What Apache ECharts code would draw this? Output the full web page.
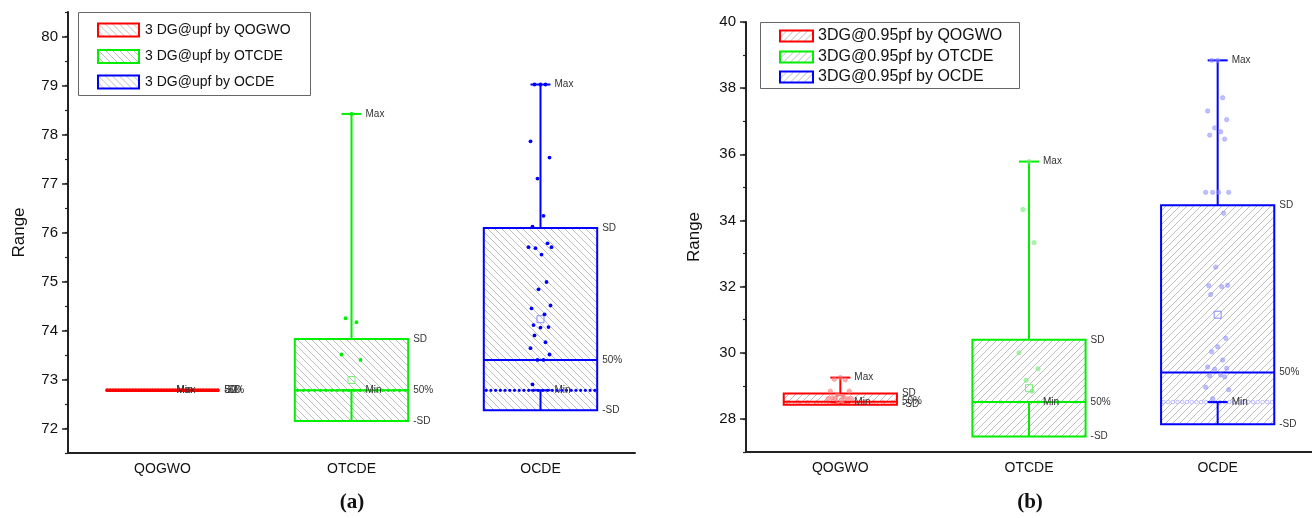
<!DOCTYPE html>
<html><head><meta charset="utf-8">
<script src="https://cdn.jsdelivr.net/npm/echarts@6/dist/echarts.min.js"></script>
<style>html,body{margin:0;padding:0;background:#fff}#c{width:1312px;height:518px}</style>
</head><body><div id="c"></div><script>
// ---------- data ----------
const categories = ['QOGWO', 'OTCDE', 'OCDE'];
const legendA = ['3 DG@upf by QOGWO', '3 DG@upf by OTCDE', '3 DG@upf by OCDE'];
const legendB = ['3DG@0.95pf by QOGWO', '3DG@0.95pf by OTCDE', '3DG@0.95pf by OCDE'];
const yTicksA = [72, 73, 74, 75, 76, 77, 78, 79, 80];
const yTicksB = [28, 30, 32, 34, 36, 38, 40];
const axisTitle = 'Range';
const captions = ['(a)', '(b)'];

// panel (a): 3 DG @ upf
const aMean   = [72.78, 72.99, 74.23];
const aSD     = [0.00, 0.835, 1.86];
const aMedian = [72.78, 72.78, 73.40];
const aMin    = [72.78, 72.78, 72.78];
const aMax    = [72.78, 78.42, 79.02];
const aMinCount = [40, 20, 24];
const aPtsQOGWO = [];
const aPtsOTCDE = [78.42, 74.25, 74.17, 73.51, 73.40];
const aPtsOCDE  = [79.02, 79.02, 79.02, 77.86, 77.53, 77.10, 76.34, 76.12, 75.78, 75.70, 75.70, 75.68,
                   75.55, 74.99, 74.84, 74.51, 74.45, 74.33, 74.11, 74.07, 74.06, 73.90, 73.76, 73.64,
                   73.51, 73.40, 73.40, 72.90];

// panel (b): 3 DG @ 0.95 pf
const bMean   = [28.60, 28.93, 31.15];
const bSD     = [0.17, 1.46, 3.31];
const bMedian = [28.52, 28.51, 29.40];
const bMin    = [28.50, 28.51, 28.51];
const bMax    = [29.25, 35.78, 38.84];
const bMinCount = [12, 6, 24];
const bPtsQOGWO = [29.25, 29.20, 29.18, 28.84, 28.84, 28.74, 28.67, 28.64, 28.61, 28.61, 28.61, 28.61, 28.57];
const bPtsOTCDE = [35.78, 34.33, 33.33, 30.00, 29.52, 29.17, 28.84];
const bPtsOCDE  = [38.84, 38.84, 37.71, 37.31, 37.05, 36.80, 36.68, 36.58, 36.46, 34.85, 34.85, 34.85,
                   34.85, 34.22, 32.59, 32.04, 32.03, 32.00, 31.76, 30.44, 30.18, 30.03, 29.78, 29.57,
                   29.53, 29.50, 29.33, 29.30, 29.27, 28.96, 28.88, 28.61];

// ---------- styling helpers ----------
const COLORS = ['#ff0000', '#00ee00', '#0000ff'];
const LIGHT  = ['rgba(255,120,120,0.6)', 'rgba(120,235,120,0.6)', 'rgba(140,140,255,0.55)'];
const MEANC  = ['#ff7777', '#77ee77', '#8888ff'];
const LABEL_FONT = '10px "Liberation Sans Narrow", "Liberation Sans", Arial, sans-serif';
const JIT = [0, -6, 5, -10, 9, -3, 3, -8, 7, -12, 11, -5, 1, 6, -2, 10, -9, 4, -7, 8];

function hatch(dir) {
  const s = 7, c = document.createElement('canvas');
  c.width = c.height = s;
  const g = c.getContext('2d');
  g.fillStyle = '#fff'; g.fillRect(0, 0, s, s);
  g.strokeStyle = '#bdbdbd'; g.lineWidth = 1;
  g.beginPath();
  if (dir > 0) { // '/'
    g.moveTo(-1, s + 1); g.lineTo(s + 1, -1);
    g.moveTo(-1, 1); g.lineTo(1, -1);
    g.moveTo(s - 1, s + 1); g.lineTo(s + 1, s - 1);
  } else {       // '\'
    g.moveTo(-1, -1); g.lineTo(s + 1, s + 1);
    g.moveTo(-1, s - 1); g.lineTo(1, s + 1);
    g.moveTo(s - 1, -1); g.lineTo(s + 1, 1);
  }
  g.stroke();
  return c;
}
const PAT = [{ image: hatch(-1), repeat: 'repeat' }, { image: hatch(1), repeat: 'repeat' }];

function txt(x, y, t, align) {
  return { type: 'text', style: { text: t, x: x, y: y, font: LABEL_FONT, fill: '#333',
    align: align || 'left', verticalAlign: 'middle', textAlign: align || 'left', textVerticalAlign: 'middle' } };
}

function boxRender(panel, k) {
  return function (params, api) {
    const mean = api.value(1), sd = api.value(2), med = api.value(3), mn = api.value(4), mx = api.value(5), nMin = api.value(6);
    const cx = api.coord([k, mean])[0];
    const band = api.size([1, 0])[0];
    const hw = band * 0.3;
    const Y = v => api.coord([k, v])[1];
    const yT = Y(mean + sd), yB = Y(mean - sd), yMed = Y(med), yMin = Y(mn), yMax = Y(mx), yMean = Y(mean);
    const col = COLORS[k];
    const lw = 2;
    const flat = Math.abs(yB - yT) < 1;
    const ch = [];
    ch.push({ type: 'rect', shape: { x: cx - hw, y: yT, width: 2 * hw, height: yB - yT }, style: { fill: PAT[panel], stroke: null } });
    for (let i = 0; i < nMin; i++) {
      const x = cx - hw + (i + 0.5) * (2 * hw / nMin);
      if (panel === 0) ch.push({ type: 'circle', shape: { cx: x, cy: yMin, r: flat ? 1.8 : 1.6 }, style: { fill: col } });
      else ch.push({ type: 'circle', shape: { cx: x, cy: yMin, r: 1.8 }, style: { fill: '#fff', stroke: LIGHT[k], lineWidth: 1 } });
    }
    ch.push({ type: 'line', shape: { x1: cx, y1: yT, x2: cx, y2: yMax }, style: { stroke: col, lineWidth: lw } });
    ch.push({ type: 'line', shape: { x1: cx, y1: yB, x2: cx, y2: yMin }, style: { stroke: col, lineWidth: lw } });
    ch.push({ type: 'line', shape: { x1: cx - 10, y1: yMax, x2: cx + 10, y2: yMax }, style: { stroke: col, lineWidth: lw } });
    ch.push({ type: 'line', shape: { x1: cx - 10, y1: yMin, x2: cx + 10, y2: yMin }, style: { stroke: col, lineWidth: lw } });
    ch.push({ type: 'rect', shape: { x: cx - hw, y: yT, width: 2 * hw, height: yB - yT }, style: { fill: null, stroke: col, lineWidth: flat ? 3 : lw } });
    ch.push({ type: 'line', shape: { x1: cx - hw, y1: yMed, x2: cx + hw, y2: yMed }, style: { stroke: col, lineWidth: flat ? 3 : lw } });
    if (!flat) ch.push({ type: 'rect', shape: { x: cx - 3.5, y: yMean - 3.5, width: 7, height: 7 }, style: { fill: null, stroke: MEANC[k], lineWidth: 1 } });
    ch.push(txt(cx + 14, yMax, 'Max'));
    ch.push(txt(cx + 14, yMin, 'Min'));
    ch.push(txt(cx + hw + 5, yT, 'SD'));
    ch.push(txt(cx + hw + 5, yMed, '50%'));
    ch.push(txt(cx + hw + 5, yB, '-SD'));
    return { type: 'group', children: ch };
  };
}

function ptsRender(panel, k) {
  return function (params, api) {
    const p = api.coord([k, api.value(1)]);
    const x = p[0] + JIT[params.dataIndex % JIT.length];
    if (panel === 0) return { type: 'circle', shape: { cx: x, cy: p[1], r: 1.9 }, style: { fill: COLORS[k] } };
    return { type: 'circle', shape: { cx: x, cy: p[1], r: 2.2 }, style: { fill: LIGHT[k], stroke: LIGHT[k], lineWidth: 0.8 } };
  };
}

const statsA = [aMean, aSD, aMedian, aMin, aMax, aMinCount];
const statsB = [bMean, bSD, bMedian, bMin, bMax, bMinCount];
const ptsA = [aPtsQOGWO, aPtsOTCDE, aPtsOCDE];
const ptsB = [bPtsQOGWO, bPtsOTCDE, bPtsOCDE];

const series = [];
[[statsA, ptsA], [statsB, ptsB]].forEach(([st, pts], panel) => {
  for (let k = 0; k < 3; k++) {
    series.push({
      type: 'custom', xAxisIndex: panel, yAxisIndex: panel * 2, renderItem: boxRender(panel, k),
      data: [[k, st[0][k], st[1][k], st[2][k], st[3][k], st[4][k], st[5][k]]], silent: true, clip: false
    });
    series.push({
      type: 'custom', xAxisIndex: panel, yAxisIndex: panel * 2, renderItem: ptsRender(panel, k),
      data: pts[k].map(v => [k, v]), silent: true, z: 3
    });
  }
});

const axisTxt = { color: '#111', fontSize: 15, fontFamily: '"Liberation Sans", Arial, sans-serif' };
function xAx(gi) {
  return {
    gridIndex: gi, type: 'category', data: categories,
    axisLine: { lineStyle: { color: '#222', width: 2 } },
    axisTick: { alignWithLabel: true, length: 6, lineStyle: { color: '#222', width: 1.5 } },
    axisLabel: { fontSize: 14, color: '#111', margin: 9, fontFamily: '"Liberation Sans", Arial, sans-serif' },
    splitLine: { show: false }
  };
}
function yMajor(gi, min, max, ticks, gap) {
  return {
    gridIndex: gi, type: 'value', min: min, max: max, position: 'left',
    name: axisTitle, nameLocation: 'middle', nameGap: gap,
    nameTextStyle: { fontSize: 17, color: '#111', fontFamily: '"Liberation Sans", Arial, sans-serif' },
    axisLine: { show: true, lineStyle: { color: '#222', width: 2 } },
    axisTick: { show: true, length: 6, customValues: ticks, lineStyle: { color: '#222', width: 1.5 } },
    axisLabel: Object.assign({ customValues: ticks, margin: 10 }, axisTxt),
    splitLine: { show: false }
  };
}
function yMinor(gi, min, max, interval) {
  return {
    gridIndex: gi, type: 'value', min: min, max: max, interval: interval, position: 'left', offset: 0,
    axisLine: { show: false }, axisLabel: { show: false },
    axisTick: { show: true, length: 3, lineStyle: { color: '#222', width: 1.2 } },
    splitLine: { show: false }
  };
}

const graphic = [];
function legend(x, y, w, h, rows, sw, sh, swx, tx, fs, panel, names) {
  graphic.push({ type: 'rect', left: x, top: y, shape: { width: w, height: h }, style: { fill: '#fff', stroke: '#666', lineWidth: 1 }, z: 10 });
  names.forEach((n, i) => {
    graphic.push({ type: 'rect', x: swx, y: rows[i] - sh / 2, shape: { x: 0, y: 0, width: sw, height: sh },
      style: { fill: PAT[panel], stroke: COLORS[i], lineWidth: 2 }, z: 11 });
    graphic.push({ type: 'text', x: tx, y: rows[i], style: { text: n, font: fs + 'px "Liberation Sans", Arial, sans-serif', fill: '#111',
      align: 'left', verticalAlign: 'middle', textAlign: 'left', textVerticalAlign: 'middle' }, z: 11 });
  });
}
legend(78, 12, 232, 83, [30, 56.5, 82], 41, 13, 98, 145, 14, 0, legendA);
legend(760, 22, 259, 66, [36, 57, 77], 33, 11, 780, 818, 16, 1, legendB);
graphic.push({ type: 'text', x: 352, y: 503, style: { text: captions[0], font: 'bold 21px "Liberation Serif", "DejaVu Serif", serif', fill: '#111',
  align: 'center', verticalAlign: 'middle', textAlign: 'center', textVerticalAlign: 'middle' } });
graphic.push({ type: 'text', x: 1030, y: 503, style: { text: captions[1], font: 'bold 21px "Liberation Serif", "DejaVu Serif", serif', fill: '#111',
  align: 'center', verticalAlign: 'middle', textAlign: 'center', textVerticalAlign: 'middle' } });

const chart = echarts.init(document.getElementById('c'), null, { renderer: 'canvas' });
chart.setOption({
  animation: false,
  backgroundColor: '#fff',
  grid: [
    { left: 68, top: 12, width: 567, height: 441 },
    { left: 746, top: 22, width: 566, height: 430 }
  ],
  xAxis: [xAx(0), xAx(1)],
  yAxis: [
    yMajor(0, 71.5, 80.5, yTicksA, 40), yMinor(0, 71.5, 80.5, 0.5),
    yMajor(1, 27, 40, yTicksB, 43), yMinor(1, 27, 40, 1)
  ],
  graphic: graphic,
  series: series
});
</script></body></html>
